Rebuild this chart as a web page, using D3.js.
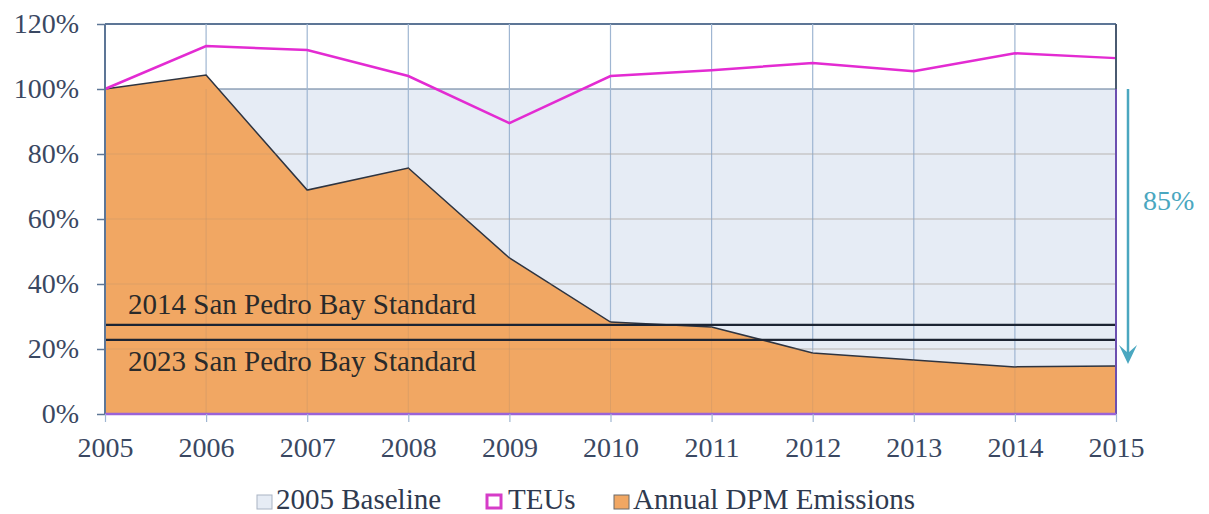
<!DOCTYPE html>
<html>
<head>
<meta charset="utf-8">
<script src="https://cdn.jsdelivr.net/npm/d3@7"></script>
<style>
  body { margin: 0; background: #fff; }
</style>
</head>
<body>
<div id="app"></div>
<script>
// data
const years = [2005, 2006, 2007, 2008, 2009, 2010, 2011, 2012, 2013, 2014, 2015];
const baseline = [100, 100, 100, 100, 100, 100, 100, 100, 100, 100, 100];
const teus = [100, 113.2, 112, 104, 89.5, 104, 105.8, 108, 105.5, 111, 109.5];
const dpm = [100, 104.3, 68.9, 75.7, 48, 28.3, 26.8, 18.8, 16.6, 14.5, 14.8];
const yTicks = [0, 20, 40, 60, 80, 100, 120];
const standards = [
  {label: "2014 San Pedro Bay Standard", value: 27.4, above: true},
  {label: "2023 San Pedro Bay Standard", value: 22.8, above: false}
];
const reduction = 85;
const legendItems = ["2005 Baseline", "TEUs", "Annual DPM Emissions"];

const FONT = "'Liberation Serif'";

// sizing
const width = 1209;
const height = 514;
const margin = {left: 105, right: 93, top: 24, bottom: 100};

const svg = d3.select("#app")
  .append("svg")
    .attr("width", width)
    .attr("height", height)
    .style("font-family", FONT);

const x = d3.scaleLinear()
  .domain([2005, 2015])
  .range([margin.left, width - margin.right]);

const y = d3.scaleLinear()
  .domain([0, 120])
  .range([height - margin.bottom, margin.top]);

// baseline area
svg.append("path")
  .datum(years.map((d, i) => [d, baseline[i]]))
  .attr("fill", "#e6ecf5")
  .attr("d", d3.area().x(d => x(d[0])).y0(y(0)).y1(d => y(d[1])));

// gridlines
svg.append("g")
  .selectAll("line")
  .data(yTicks.slice(1))
  .enter().append("line")
    .attr("x1", x(2005)).attr("x2", x(2015))
    .attr("y1", d => y(d)).attr("y2", d => y(d))
    .attr("stroke", d => d === 100 || d === 120 ? "#5d7696" : "#c3ccd8")
    .attr("stroke-width", d => d === 120 ? 2 : 1.2);

svg.append("g")
  .selectAll("line")
  .data(years.slice(1, -1))
  .enter().append("line")
    .attr("x1", d => x(d)).attr("x2", d => x(d))
    .attr("y1", y(120)).attr("y2", y(0))
    .attr("stroke", "#9fb6d2")
    .attr("stroke-width", 1.2);

// DPM area
svg.append("path")
  .datum(years.map((d, i) => [d, dpm[i]]))
  .attr("fill", "#f1a763")
  .attr("d", d3.area().x(d => x(d[0])).y0(y(0)).y1(d => y(d[1])));

svg.append("path")
  .datum(years.map((d, i) => [d, dpm[i]]))
  .attr("fill", "none")
  .attr("stroke", "#2e3440")
  .attr("stroke-width", 1.5)
  .attr("d", d3.line().x(d => x(d[0])).y(d => y(d[1])));

// faint gridlines showing through the area
svg.append("g")
  .selectAll("line")
  .data(yTicks.slice(1, 5))
  .enter().append("line")
    .attr("x1", x(2005)).attr("x2", x(2015))
    .attr("y1", d => y(d)).attr("y2", d => y(d))
    .attr("stroke", "#b08a6a")
    .attr("stroke-opacity", 0.3)
    .attr("stroke-width", 1);
svg.append("g")
  .selectAll("line")
  .data(years.slice(1, -1))
  .enter().append("line")
    .attr("x1", d => x(d)).attr("x2", d => x(d))
    .attr("y1", d => y(Math.min(100, dpm[years.indexOf(d)]))).attr("y2", y(0))
    .attr("stroke", "#b08a6a")
    .attr("stroke-opacity", 0.3)
    .attr("stroke-width", 1);

// standards
svg.append("g")
  .selectAll("line")
  .data(standards)
  .enter().append("line")
    .attr("x1", x(2005)).attr("x2", x(2015))
    .attr("y1", d => y(d.value)).attr("y2", d => y(d.value))
    .attr("stroke", "#1c2433")
    .attr("stroke-width", 2.2);

svg.append("g")
  .selectAll("text")
  .data(standards)
  .enter().append("text")
    .attr("x", x(2005) + 23)
    .attr("y", d => d.above ? y(d.value) - 11 : y(d.value) + 31)
    .attr("font-size", 29)
    .style("font-family", FONT)
    .attr("fill", "#2a2a2a")
    .text(d => d.label);

// TEUs line
svg.append("path")
  .datum(years.map((d, i) => [d, teus[i]]))
  .attr("fill", "none")
  .attr("stroke", "#e32bd2")
  .attr("stroke-width", 2.5)
  .attr("d", d3.line().x(d => x(d[0])).y(d => y(d[1])));

// frame
svg.append("line")
  .attr("x1", x(2005)).attr("x2", x(2005))
  .attr("y1", y(120)).attr("y2", y(0))
  .attr("stroke", "#5d7696").attr("stroke-width", 2);
svg.append("line")
  .attr("x1", x(2015)).attr("x2", x(2015))
  .attr("y1", y(120)).attr("y2", y(100))
  .attr("stroke", "#4a5a70").attr("stroke-width", 2);
svg.append("line")
  .attr("x1", x(2015)).attr("x2", x(2015))
  .attr("y1", y(100)).attr("y2", y(0))
  .attr("stroke", "#6b4fb0").attr("stroke-width", 2);
svg.append("line")
  .attr("x1", x(2005)).attr("x2", x(2015))
  .attr("y1", y(0)).attr("y2", y(0))
  .attr("stroke", "#9a63d8").attr("stroke-width", 2.5);

// axes
const yAxis = svg.append("g")
  .attr("transform", `translate(${x(2005)},0)`)
  .call(d3.axisLeft(y).tickValues(yTicks).tickSize(8).tickPadding(18).tickFormat(d => d + "%"));
yAxis.attr("font-family", null);
yAxis.select(".domain").remove();
yAxis.selectAll(".tick line").attr("stroke", "#5d7696").attr("stroke-width", 1.5);
yAxis.selectAll(".tick text")
  .attr("font-size", 28)
  .attr("fill", "#3a4862")
  .style("font-family", FONT);

const xAxis = svg.append("g")
  .attr("transform", `translate(0,${y(0)})`)
  .call(d3.axisBottom(x).tickValues(years).tickSize(8).tickPadding(15).tickFormat(d3.format("d")));
xAxis.attr("font-family", null);
xAxis.select(".domain").remove();
xAxis.selectAll(".tick line").attr("stroke", "#9fb6d2").attr("stroke-width", 1.2);
xAxis.selectAll(".tick text")
  .attr("font-size", 28)
  .attr("fill", "#3a4862")
  .style("font-family", FONT);

// reduction arrow
const arrowX = x(2015) + 12;
const arrowTop = y(100);
const arrowBottom = y(dpm[dpm.length - 1]) - 2;
svg.append("line")
  .attr("x1", arrowX).attr("x2", arrowX)
  .attr("y1", arrowTop).attr("y2", arrowBottom - 8)
  .attr("stroke", "#4aa7c0").attr("stroke-width", 2.5);
svg.append("path")
  .attr("d", `M${arrowX - 9},${arrowBottom - 19} L${arrowX},${arrowBottom} L${arrowX + 9},${arrowBottom - 19} L${arrowX},${arrowBottom - 11} Z`)
  .attr("fill", "#4aa7c0");
svg.append("text")
  .attr("x", arrowX + 15)
  .attr("y", 210)
  .attr("font-size", 28)
  .style("font-family", FONT)
  .attr("fill", "#4aa7c0")
  .text(reduction + "%");

// legend
const legendX = [257, 486, 614];
const legend = svg.append("g")
  .selectAll("g")
  .data(legendItems)
  .enter().append("g")
    .attr("transform", (d, i) => `translate(${legendX[i]},495)`);
legend.append("rect")
  .attr("x", (d, i) => i === 1 ? 1 : 0)
  .attr("width", (d, i) => i === 1 ? 14 : 15)
  .attr("height", (d, i) => i === 1 ? 13 : 14)
  .attr("fill", (d, i) => ["#e6ecf5", "#fff", "#f1a763"][i])
  .attr("stroke", (d, i) => ["#a9b4c4", "#d63cc8", "#6b6b6b"][i])
  .attr("stroke-width", (d, i) => i === 1 ? 3 : 1);
legend.append("text")
  .attr("x", (d, i) => i === 1 ? 22 : 19)
  .attr("y", 14)
  .attr("font-size", 29)
  .style("font-family", FONT)
  .attr("fill", "#2f3a4f")
  .text(d => d);
</script>
</body>
</html>
